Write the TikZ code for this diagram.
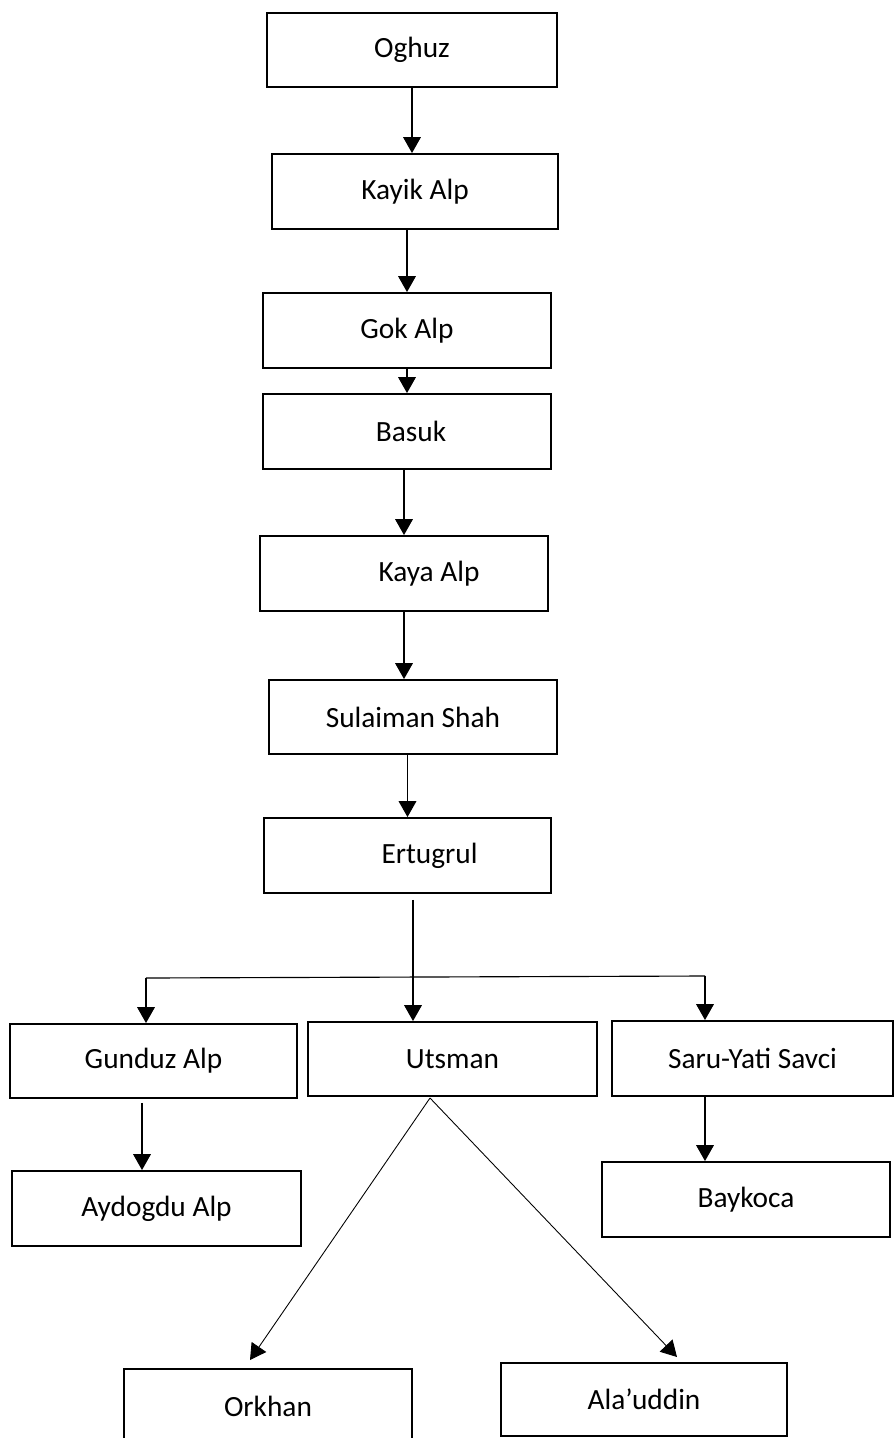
\documentclass[tikz,border=0pt]{standalone}
\usepackage{fontspec}
\setmainfont{Carlito}
\usetikzlibrary{arrows.meta}
\begin{document}
\begin{tikzpicture}[x=0.02cm, y=-0.02cm]
\tikzset{boite/.style={draw, line width=1.1pt, minimum width=5.76cm, minimum height=1.5cm, inner sep=0pt, font=\fontsize{16.7}{20}\selectfont},
fleche/.style={-{Triangle[width=10pt, length=9pt]}, line width=0.65pt}}
\clip (0,0) rectangle (895,1438);
% lignee principale
\node[boite, minimum width=5.8cm, minimum height=1.48cm] (Oghuz) at (412,50) {Oghuz};
\node[boite, minimum width=5.72cm] (Kayik) at (415,191.5) {Kayik Alp};
\node[boite] (Gok) at (407,330.5) {Gok Alp};
\node[boite] (Basuk) at (407,431.5) {\hspace{0.16cm}Basuk};
\node[boite] (Kaya) at (404,573.5) {\hspace{1cm}Kaya Alp};
\node[boite, minimum height=1.48cm] (Sulaiman) at (413,717) {Sulaiman Shah};
\node[boite, minimum width=5.74cm] (Ertugrul) at (407.5,855.5) {\hspace{0.88cm}Ertugrul};
% fils
\node[boite, minimum width=5.74cm, minimum height=1.48cm] (Gunduz) at (153.5,1061) {Gunduz Alp};
\node[boite, minimum width=5.78cm, minimum height=1.48cm] (Utsman) at (452.5,1059) {Utsman};
\node[boite, minimum width=5.62cm] (Saru) at (752.5,1058.5) {Saru-Yati Savci};
\node[boite, minimum width=5.78cm] (Aydogdu) at (156.5,1208.5) {Aydogdu Alp};
\node[boite] (Baykoca) at (746,1199.5) {Baykoca};
\node[boite] (Orkhan) at (268,1406.5) {Orkhan};
\node[boite, minimum width=5.72cm, minimum height=1.46cm] (Alauddin) at (644,1399.5) {Ala’uddin};
\coordinate (split) at (413,977);
\coordinate (barL) at (146,978);
\coordinate (barR) at (705,976);
\coordinate (fork) at (430,1098);
\coordinate (tipO) at (250,1360);
\coordinate (tipA) at (677,1357);
% fleches
\draw[fleche] (Oghuz.south) -- (Oghuz.south |- Kayik.north);
\draw[fleche] (Gok.north |- Kayik.south) -- (Gok.north);
\draw[fleche] (Gok) -- (Basuk);
\draw[fleche] (Kaya.north |- Basuk.south) -- (Kaya.north);
\draw[fleche] (Kaya.south) -- (Kaya.south |- Sulaiman.north);
\draw[fleche] (Ertugrul.north |- Sulaiman.south) -- (Ertugrul.north);
\draw[line width=0.65pt] (split |- Ertugrul.south) ++(0,6) -- (split);
\draw[line width=0.65pt] (barL) -- (barR);
\draw[fleche] (split) -- (split |- Utsman.north);
\draw[fleche] (barL) -- (barL |- Gunduz.north);
\draw[fleche] (barR) -- (barR |- Saru.north);
\draw[fleche] ([xshift=-0.23cm]Gunduz.south) ++(0,4) -- ([xshift=-0.23cm]Gunduz.south |- Aydogdu.north);
\draw[fleche] (barR |- Saru.south) -- (barR |- Baykoca.north);
\draw[fleche, line width=0.5pt] (fork) -- (tipO);
\draw[fleche, line width=0.5pt] (fork) -- (tipA);
\end{tikzpicture}
\end{document}
